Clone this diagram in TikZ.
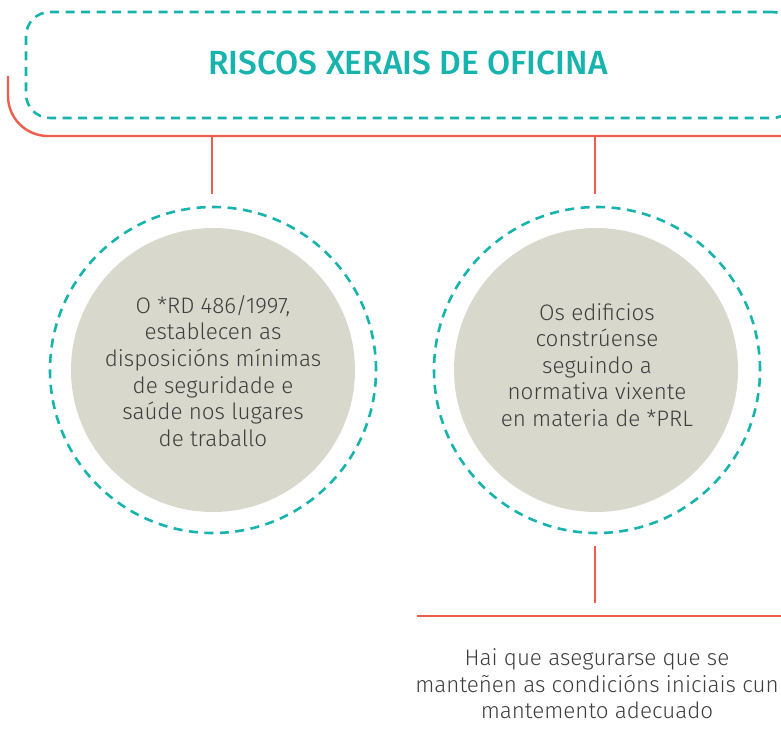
\documentclass[tikz,border=0pt]{standalone}
\usepackage{fontspec}
\setmainfont{Fira Sans}[UprightFont=* Light, BoldFont=* Medium]
\definecolor{tealc}{HTML}{17B3AD}
\definecolor{redc}{HTML}{EF5D4C}
\definecolor{grayc}{HTML}{D9D8CC}
\definecolor{textc}{HTML}{3E3E3E}
\begin{document}
\begin{tikzpicture}[x=1pt,y=-1pt,
  tealdash/.style={draw=tealc, line width=2.6pt, dash pattern=on 9pt off 6.5pt},
  redline/.style={draw=redc, line width=2.4pt},
  body/.style={text=textc, font=\fontsize{22.4}{26.6}\selectfont, align=center, inner sep=0pt},
  disc/.style={circle, fill=grayc, minimum size=284pt, inner sep=0pt},
  ring/.style={circle, tealdash, minimum size=326pt, inner sep=0pt}]
\useasboundingbox (0,0) rectangle (781,747);
% title box
\node[tealdash, rounded corners=24pt, minimum width=770pt, minimum height=106pt] (title) at (411,65) {};
\node[text=tealc, font=\bfseries\fontsize{33.5}{38}\selectfont, inner sep=0pt] (ttext) at (408,63) {RISCOS XERAIS DE OFICINA};
% red bracket
\coordinate (r0) at (8,76);
\coordinate (r1) at (781,136);
\draw[redline, rounded corners=40pt] (r0) |- (r1);
\coordinate (d1a) at (212,136);
\coordinate (d1b) at (212,194);
\coordinate (d2a) at (595,136);
\coordinate (d2b) at (595,194);
\draw[redline] (d1a) -- (d1b);
\draw[redline] (d2a) -- (d2b);
% circles
\node[disc] (c1) at (213,370) {};
\node[ring] (c1o) at (213,370) {};
\node[body] (t1) at (213,371) {O *RD 486/1997,\\establecen as\\disposicións mínimas\\de seguridade e\\saúde nos lugares\\de traballo};
\node[disc] (c2) at (596,370) {};
\node[ring] (c2o) at (597,370) {};
\node[body] (t2) at (597,365) {Os edificios\\constrúense\\seguindo a\\normativa vixente\\en materia de *PRL};
% lower connector
\coordinate (d3a) at (595,546);
\coordinate (d3b) at (595,603);
\draw[redline] (d3a) -- (d3b);
\coordinate (h1) at (417,616);
\coordinate (h2) at (781,616);
\draw[redline] (h1) -- (h2);
\node[body] (bt) at (597,684) {Hai que asegurarse que se\\manteñen as condicións iniciais cun\\mantemento adecuado};
\end{tikzpicture}
\end{document}
